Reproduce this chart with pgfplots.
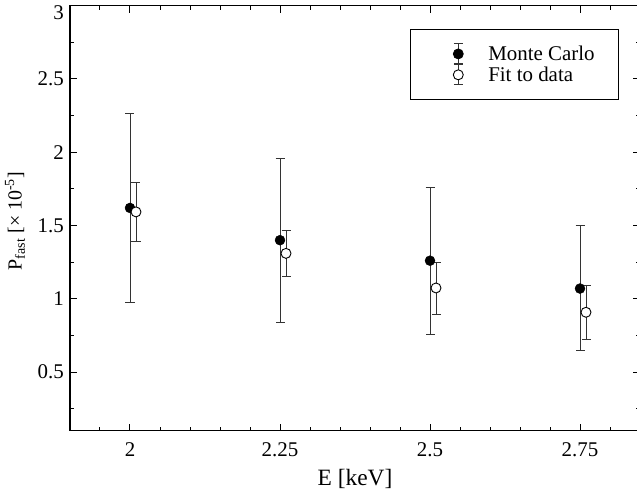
\documentclass[border=0pt]{standalone}
\usepackage{fontspec}
\setmainfont{Liberation Serif}
\usepackage{pgfplots}
\pgfplotsset{compat=1.18}

\pgfplotsset{
  errleg/.style={legend image code/.code={
    \path[draw=none, fill=none] (0bp,-10bp) rectangle (54bp,10bp);
    \draw[black!80, fill=none, line width=0.9bp] (24bp,-10bp) -- (24bp,10bp)
      (19.5bp,-10bp) -- (28.5bp,-10bp) (19.5bp,10bp) -- (28.5bp,10bp);
    \draw[##1, only marks] plot coordinates {(24bp,0bp)};
  }}
}

\begin{document}
\begin{tikzpicture}
\begin{axis}[
    at={(0,0)}, anchor=south west,
    scale only axis,
    width=570bp, height=425bp,
    xmin=1.9, xmax=2.85,
    ymin=0.1, ymax=3,
    xtick={2,2.25,2.5,2.75},
    xticklabels={\textrm{2},\textrm{2.25},\textrm{2.5},\textrm{2.75}},
    ytick={0.5,1,1.5,2,2.5},
    yticklabels={\textrm{0.5},\textrm{1},\textrm{1.5},\textrm{2},\textrm{2.5}},
    extra y ticks={3},
    extra y tick labels={\textrm{3}},
    extra y tick style={yticklabel style={yshift=-7bp}},
    minor xtick={1.9,1.95,2.05,2.1,2.15,2.2,2.3,2.35,2.4,2.45,2.55,2.6,2.65,2.7,2.8,2.85},
    minor ytick={0.25,0.75,1.25,1.75,2.25,2.75},
    tick align=inside,
    major tick length=7bp,
    minor tick length=4bp,
    every tick/.style={black, line width=1bp},
    axis line style={line width=1.3bp},
    ticklabel style={font=\rmfamily\fontsize{21}{24}\selectfont},
    xticklabel style={anchor=north, inner sep=0pt, yshift=-12bp},
    yticklabel style={anchor=east, inner sep=0pt, xshift=-6bp},
    xlabel={E [keV]},
    ylabel={P\textsubscript{fast} [× 10\textsuperscript{-5}]},
    x label style={at={(axis description cs:0.5,-0.113)}, anchor=center, font=\fontsize{23.5}{26}\selectfont},
    y label style={at={(axis description cs:-0.0965,0.493)}, anchor=center, rotate=0, font=\fontsize{20}{24}\selectfont},
    error bars/error bar style={black!80, line width=0.9bp},
    error bars/error mark options={rotate=90, mark size=4.5bp, black!80, line width=0.9bp},
    legend style={at={(0.9632,0.945)}, anchor=north east, draw=black, line width=0.8bp,
        inner xsep=24bp, inner ysep=14bp, row sep=0pt,
        nodes={inner sep=0pt}, font=\fontsize{21}{24}\selectfont},
    legend cell align=left,
]

\addplot[only marks, mark=*, mark size=5bp, black, errleg,
    error bars/.cd, y dir=both, y explicit]
coordinates {
    (2.00,1.62) += (0,0.648) -= (0,0.648)
    (2.25,1.40) += (0,0.556) -= (0,0.560)
    (2.50,1.26) += (0,0.503) -= (0,0.502)
    (2.75,1.07) += (0,0.430) -= (0,0.423)
};
\addlegendentry{Monte Carlo}

\addplot[only marks, mark=*, mark size=5bp, black,
    mark options={line width=0.9bp, fill=white}, errleg,
    error bars/.cd, y dir=both, y explicit]
coordinates {
    (2.01,1.593) += (0,0.202) -= (0,0.203)
    (2.26,1.310) += (0,0.157) -= (0,0.160)
    (2.51,1.074) += (0,0.175) -= (0,0.180)
    (2.76,0.908) += (0,0.180) -= (0,0.182)
};
\addlegendentry{Fit to data}

\end{axis}
\pgfresetboundingbox
\path[use as bounding box] (-70bp,-60bp) rectangle (567bp,430.7bp);
\end{tikzpicture}
\end{document}
